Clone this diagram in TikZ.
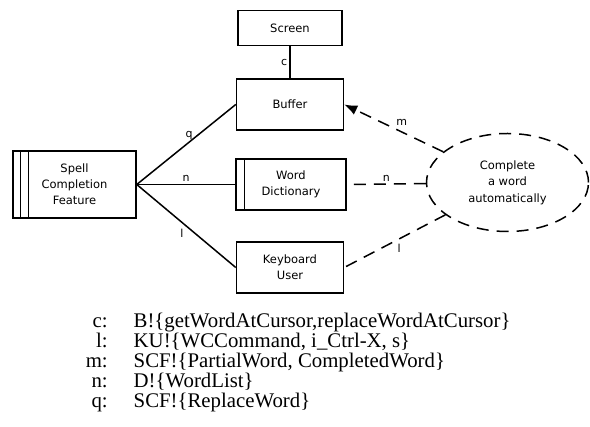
\documentclass[tikz,border=0pt]{standalone}
\usepackage{fontspec}
\setmainfont{Liberation Serif}
\newfontfamily\diafont{DejaVu Sans}
\usetikzlibrary{shapes.geometric,arrows.meta}

\begin{document}
\begin{tikzpicture}[x=1pt,y=-1pt,line width=1.5pt,
    box/.style={draw,rectangle,minimum height=51pt,align=center,font=\diafont\fontsize{11.5}{16}\selectfont},
    task/.style={draw,ellipse,dash pattern=on 12pt off 8pt,minimum width=162pt,minimum height=98pt,align=center,font=\diafont\fontsize{11.5}{16.5}\selectfont},
    link/.style={dash pattern=on 12pt off 8pt},
    tag/.style={font=\diafont\fontsize{11}{13}\selectfont,inner sep=2pt}]

\useasboundingbox (0,0) rectangle (590,427);

\node at (290,28) [box,minimum width=104pt,minimum height=35pt] (Screen) {Screen};
\node at (290,104.5) [box,minimum width=107pt] (Buffer) {Buffer};
\node at (291,184.5) [box,minimum width=110pt] (Dict) {Word\\Dictionary};
\node at (290,267.5) [box,minimum width=107pt] (User) {Keyboard\\User};
\node at (74.5,184.5) [box,minimum width=123pt,minimum height=67pt] (SCF) {Spell\\Completion\\Feature};
\node at (507.5,182.5) [task] (Goal) {Complete\\a word\\automatically};

% bars of the barred boxes
\draw ([xshift=8pt]SCF.north west) -- ([xshift=8pt]SCF.south west)
      ([xshift=16pt]SCF.north west) -- ([xshift=16pt]SCF.south west)
      ([xshift=9pt]Dict.north west) -- ([xshift=9pt]Dict.south west);

\draw (Screen) -- node[tag,left] {c} (Buffer);
\draw (SCF.east) -- node[tag,above,pos=.53] {q} (Buffer.west);
\draw (SCF.east) -- node[tag,above] {n} (Dict.west);
\draw (SCF.east) -- node[tag,below left] {l} (User.west);

\draw[link,-{Latex[length=13pt,width=10pt]}] (Goal) -- node[tag,above right] {m} (Buffer.east);
\draw[link] (Goal) -- node[tag,above] {n} (Dict.east);
\draw[link] (Goal) -- node[tag,below right] {l} (User.east);

\node at (85,312) [anchor=north west,inner sep=0pt,font=\fontsize{20.8}{19}\selectfont] (Legend) {%
  \begin{tabular}{@{}r@{\hspace{26pt}}l@{}}
    c: & B!\{getWordAtCursor,replaceWordAtCursor\}\\
    l: & KU!\{WCCommand, i\_Ctrl-X, s\}\\
    m: & SCF!\{PartialWord, CompletedWord\}\\
    n: & D!\{WordList\}\\
    q: & SCF!\{ReplaceWord\}
  \end{tabular}};
\end{tikzpicture}
\end{document}
